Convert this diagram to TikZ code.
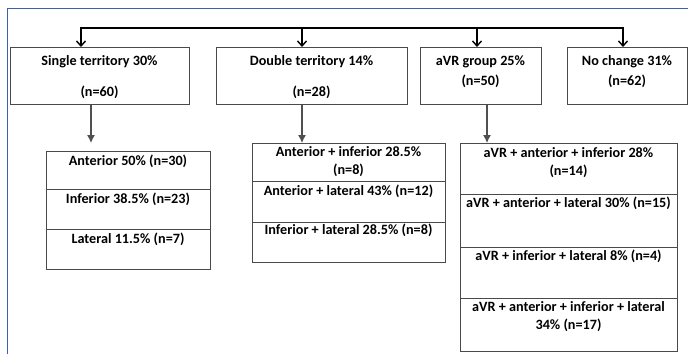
\documentclass[tikz,border=0pt]{standalone}
\usepackage{fontspec}
\setmainfont{Carlito}
\usetikzlibrary{arrows.meta}
\definecolor{frameblue}{HTML}{3A60B6}
\definecolor{boxgray}{HTML}{4A4A4A}
\definecolor{linkgray}{HTML}{505050}
\begin{document}
\begin{tikzpicture}[x=1pt,y=-1pt,
  box/.style={draw=boxgray, line width=0.9pt, fill=white, inner sep=0pt, anchor=north west},
  rowbox/.style={draw=boxgray, line width=1pt, fill=white, inner sep=0pt, anchor=north west},
  txt/.style={font=\bfseries\fontsize{14.2}{18}\selectfont, inner sep=0pt, align=center, text=black},
  bus/.style={draw=black, line width=1.6pt},
  busarrow/.style={bus, -{Straight Barb[length=5pt,width=9pt,line width=1.4pt]}},
  busboth/.style={bus, {Straight Barb[length=5pt,width=9pt,line width=1.4pt]}-{Straight Barb[length=5pt,width=9pt,line width=1.4pt]}},
  down/.style={draw=linkgray, line width=1.1pt, -{Latex[length=8pt,width=8pt]}}
]
\useasboundingbox (0,0) rectangle (688,354);
\fill[white] (0,0) rectangle (688,354);
% frame
\draw[frameblue, line width=1.4pt] (7.5,354) -- (7.5,8.5) -- (688,8.5);

% top boxes
\node[box, minimum width=179pt, minimum height=57pt] (b1) at (10,47) {};
\node[box, minimum width=191pt, minimum height=57pt] (b2) at (216,47) {};
\node[box, minimum width=121pt, minimum height=57pt] (b3) at (420,47) {};
\node[box, minimum width=120pt, minimum height=57pt] (b4) at (567,47) {};
\node[txt] (b1a) at (99.5,62) {Single territory 30\%};
\node[txt] (b1b) at (99.5,92) {(n=60)};
\node[txt] (b2a) at (311.5,62) {Double territory 14\%};
\node[txt] (b2b) at (311.5,92) {(n=28)};
\node[txt] (b3a) at (480.5,62) {aVR group 25\%};
\node[txt] (b3b) at (480.5,81) {(n=50)};
\node[txt] (b4a) at (627,62) {No change 31\%};
\node[txt] (b4b) at (627,81) {(n=62)};

% bus
\coordinate (busL) at (81,28);
\coordinate (busR) at (623,28);
\coordinate (m2) at (302,28);
\coordinate (m3) at (477,28);
\draw[busboth] (busL |- b1.north) -- (busL) -- (busR) -- (busR |- b4.north);
\draw[busarrow] (m2) -- (m2 |- b2.north);
\draw[busarrow] (m3) -- (m3 |- b3.north);

% single territory rows
\node[rowbox, minimum width=164pt, minimum height=38pt] (s1) at (46,151) {};
\node[rowbox, minimum width=164pt, minimum height=40pt] (s2) at (46,189) {};
\node[rowbox, minimum width=164pt, minimum height=40pt] (s3) at (46,229) {};
\node[txt] (s1t) at (128,161) {Anterior 50\% (n=30)};
\node[txt] (s2t) at (128,199) {Inferior 38.5\% (n=23)};
\node[txt] (s3t) at (128,239) {Lateral 11.5\% (n=7)};

% double territory rows
\node[rowbox, minimum width=193pt, minimum height=38pt] (d1) at (252,143) {};
\node[rowbox, minimum width=193pt, minimum height=41pt] (d2) at (252,181) {};
\node[rowbox, minimum width=193pt, minimum height=40pt] (d3) at (252,222) {};
\node[txt] (d1t) at (348.5,162) {Anterior + inferior 28.5\%\\(n=8)};
\node[txt] (d2t) at (348.5,191) {Anterior + lateral 43\% (n=12)};
\node[txt] (d3t) at (348.5,230.5) {Inferior + lateral 28.5\% (n=8)};

% aVR rows
\node[rowbox, minimum width=217pt, minimum height=51pt] (a1) at (460,143) {};
\node[rowbox, minimum width=217pt, minimum height=53pt] (a2) at (460,194) {};
\node[rowbox, minimum width=217pt, minimum height=51pt] (a3) at (460,247) {};
\node[rowbox, minimum width=217pt, minimum height=53pt] (a4) at (460,298) {};
\node[txt] (a1t) at (568.5,162.5) {aVR + anterior + inferior 28\%\\(n=14)};
\node[txt] (a2t) at (568.5,203) {aVR + anterior + lateral 30\% (n=15)};
\node[txt] (a3t) at (568.5,256) {aVR + inferior + lateral 8\% (n=4)};
\node[txt] (a4t) at (568.5,316.5) {aVR + anterior + inferior + lateral\\34\% (n=17)};

% down connectors
\coordinate (t1) at (91,143);
\coordinate (t2) at (302,143);
\coordinate (t3) at (487,143);
\draw[down] (b1.south -| t1) -- (t1);
\draw[down] (b2.south -| t2) -- (t2 |- d1.north);
\draw[down] (b3.south -| t3) -- (t3 |- a1.north);
\end{tikzpicture}
\end{document}
